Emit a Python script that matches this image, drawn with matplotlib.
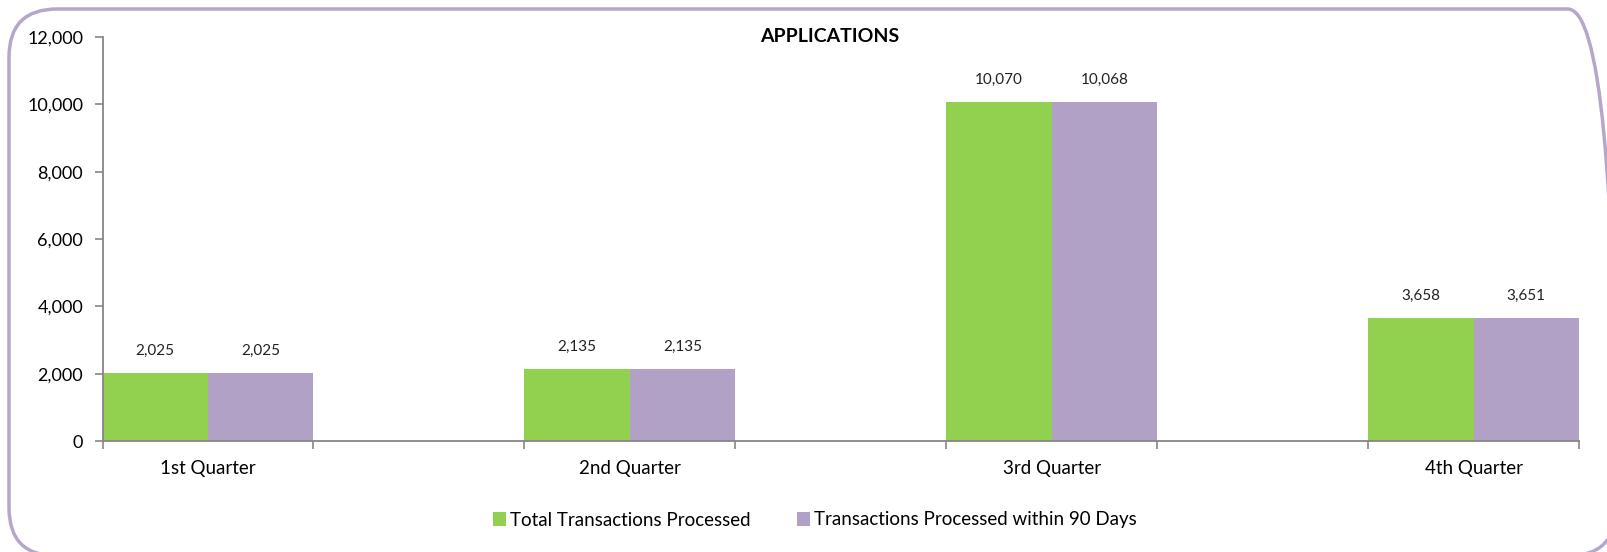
import numpy as np
import matplotlib.pyplot as plt
from matplotlib.patches import FancyBboxPatch, Patch

# data
quarters = ['1st Quarter', '2nd Quarter', '3rd Quarter', '4th Quarter']
total = [2025, 2135, 10070, 3658]
within90 = [2025, 2135, 10068, 3651]
series = ['Total Transactions Processed', 'Transactions Processed within 90 Days']
colors = ['#92D050', '#B2A1C7']

plt.rcParams['font.family'] = ['Lato', 'DejaVu Sans']

W, H = 1607, 552
fig = plt.figure(figsize=(W / 100, H / 100), dpi=100)

# rounded chart border (runs off the bottom of the image)
border = FancyBboxPatch((9 / W, -4 / H), 1.0, 1 - 9 / H + 4 / H,
                        boxstyle='round,pad=0,rounding_size=0.03',
                        transform=fig.transFigure, fill=False,
                        edgecolor='#B7A6CB', linewidth=2.5, mutation_aspect=W / H)
fig.patches.append(border)

ax = fig.add_axes([102.5 / W, 1 - 441 / H, (1579 - 102.5) / W, (441 - 37) / H])

x = np.arange(len(quarters))
bw = 0.25
b1 = ax.bar(x + bw / 2, total, width=bw, color=colors[0], edgecolor='none')
b2 = ax.bar(x + 1.5 * bw, within90, width=bw, color=colors[1], edgecolor='none')

for bars, vals in [(b1, total), (b2, within90)]:
    for rect, v in zip(bars, vals):
        ax.annotate(f'{v:,}', (rect.get_x() + rect.get_width() / 2, v),
                    xytext=(0, 11), textcoords='offset points',
                    ha='center', va='bottom', fontsize=11, color='#222222')

ax.set_xlim(0, 3.5)
ax.set_ylim(0, 12000)
ax.set_yticks(np.arange(0, 12001, 2000))
ax.set_yticklabels([f'{v:,}' for v in range(0, 12001, 2000)], fontsize=13)

ax.set_xticks(x + bw)
ax.set_xticklabels(quarters, fontsize=13.5)
ax.tick_params(axis='x', which='major', length=0, pad=14)
ax.set_xticks(np.concatenate([x, x + 2 * bw]), minor=True)
ax.tick_params(axis='x', which='minor', length=6, color='#868686', width=1.2)
ax.tick_params(axis='y', length=6, color='#868686', width=1.2, pad=8)

for s in ['top', 'right']:
    ax.spines[s].set_visible(False)
for s in ['left', 'bottom']:
    ax.spines[s].set_color('#868686')
    ax.spines[s].set_linewidth(1.3)

fig.text(810 / 1568, 1 - 36 / H, 'APPLICATIONS', fontsize=14, fontweight='bold',
         ha='center', va='center')

handles = [Patch(facecolor=c, edgecolor='none') for c in colors]
fig.legend(handles, series, loc='center', bbox_to_anchor=(795 / 1568, 1 - 520 / H),
           ncol=2, frameon=False, fontsize=13.5, handlelength=0.7, handleheight=0.7,
           handletextpad=0.2, columnspacing=2.5)

fig.savefig('out.png', dpi=100)
